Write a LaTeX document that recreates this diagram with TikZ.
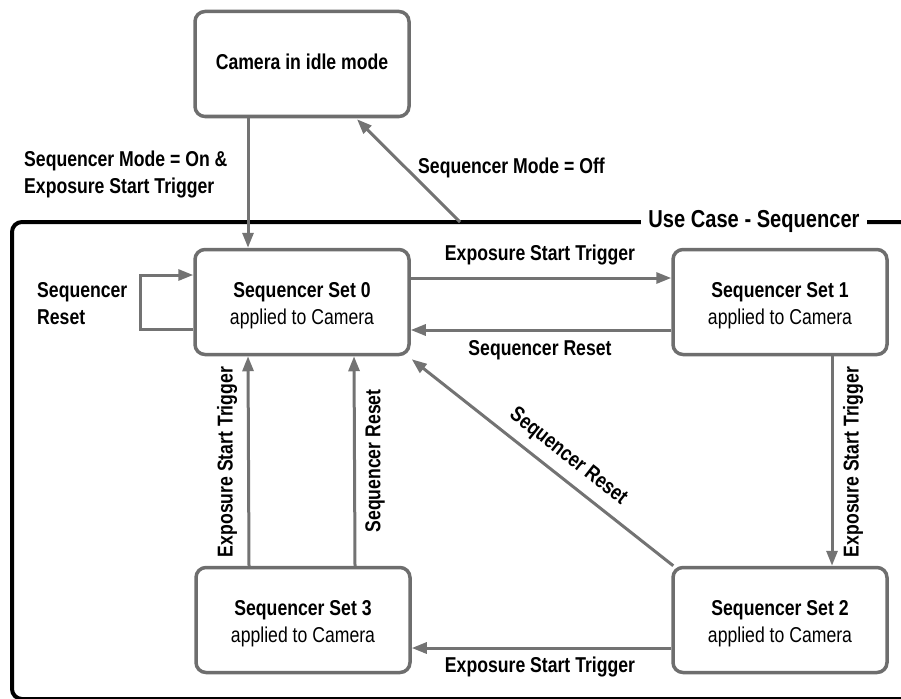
\documentclass[tikz,border=0pt]{standalone}
\usepackage{fontspec}
\setmainfont{Liberation Sans}[FakeStretch=0.82]
\usetikzlibrary{arrows.meta}
\definecolor{boxgray}{HTML}{6E6E6E}
\definecolor{arrgray}{HTML}{737373}
\begin{document}
\begin{tikzpicture}[x=1pt,y=-1pt,
  font=\fontsize{21.5}{27}\selectfont,
  box/.style={draw=boxgray,line width=3.5pt,rounded corners=10pt,fill=white,
    minimum width=214pt,minimum height=105pt,inner sep=0pt},
  boxtext/.style={align=center,inner sep=0pt},
  arr/.style={draw=arrgray,line width=3pt,-{Triangle[length=15pt,width=11pt]}},
  lbl/.style={font=\fontsize{21.5}{27}\selectfont\bfseries,inner sep=0pt,align=left}]
\useasboundingbox (0,0) rectangle (901,698);
% frame
\draw[line width=4pt,rounded corners=10pt] (910,222) -- (12,222) -- (12,699) -- (910,699);
\node[font=\fontsize{24.5}{28}\selectfont\bfseries,fill=white,inner xsep=7pt,inner ysep=2pt] (uc) at (754,221) {Use Case - Sequencer};
% boxes
\node[box] (idle) at (302,64) {};
\node[boxtext,font=\fontsize{21.5}{27}\selectfont\bfseries] (idlet) at (302,62) {Camera in idle mode};
\node[box] (s0) at (302,302) {};
\node[box] (s1) at (780,302) {};
\node[box] (s2) at (780,620) {};
\node[box] (s3) at (303,620) {};
\node[boxtext] (t0) at ([yshift=-4pt]s0.center) {\textbf{Sequencer Set 0}\\applied to Camera};
\node[boxtext] (t1) at ([yshift=-4pt]s1.center) {\textbf{Sequencer Set 1}\\applied to Camera};
\node[boxtext] (t2) at ([yshift=-4pt]s2.center) {\textbf{Sequencer Set 2}\\applied to Camera};
\node[boxtext] (t3) at ([yshift=-4pt]s3.center) {\textbf{Sequencer Set 3}\\applied to Camera};
\coordinate (offstart) at (460,222);
% arrows
\draw[arr] ([xshift=-54pt]idle.south) -- ([xshift=-54pt]s0.north);
\draw[arr] (offstart) -- ([xshift=55pt,yshift=-1pt]idle.south);
\draw[arr] ([yshift=24pt]s0.east) -- ([yshift=24pt]s1.west);
\draw[arr] ([yshift=-28pt]s1.west) -- ([yshift=-28pt]s0.west -| s0.east);
\draw[arr] ([yshift=-27pt]s0.west) -- ++(-53,0) |- ([yshift=27pt]s0.west);
\draw[arr] ([xshift=52pt]s1.south) -- ([xshift=52pt]s2.north);
\draw[arr] ([yshift=-28pt]s2.west) -- ([yshift=-28pt]s3.east);
\draw[arr] ([xshift=-54pt]s3.north) -- ([xshift=-54pt]s0.south);
\draw[arr] ([xshift=52pt]s3.north) -- ([xshift=52pt]s0.south);
\draw[arr] ([xshift=2pt]s2.north west) -- ([xshift=1pt,yshift=-3pt]s0.south east)
  node[lbl,pos=0.45,sloped,above=9pt] (ldiag) {Sequencer Reset};
% labels
\node[lbl,anchor=west] (lon) at (24,174) {Sequencer Mode = On \&\\Exposure Start Trigger};
\node[lbl,anchor=west] (loff) at (418,168) {Sequencer Mode = Off};
\node[lbl] (l01) at (540,255) {Exposure Start Trigger};
\node[lbl] (l10) at (540,350) {Sequencer Reset};
\node[lbl,anchor=west] (lself) at (37,304) {Sequencer\\Reset};
\node[lbl,rotate=90] (l12) at (853,462) {Exposure Start Trigger};
\node[lbl,rotate=90] (l30a) at (227,462) {Exposure Start Trigger};
\node[lbl,rotate=90] (l30b) at (375,461) {Sequencer Reset};
\node[lbl] (l23) at (540,667) {Exposure Start Trigger};
\end{tikzpicture}
\end{document}
